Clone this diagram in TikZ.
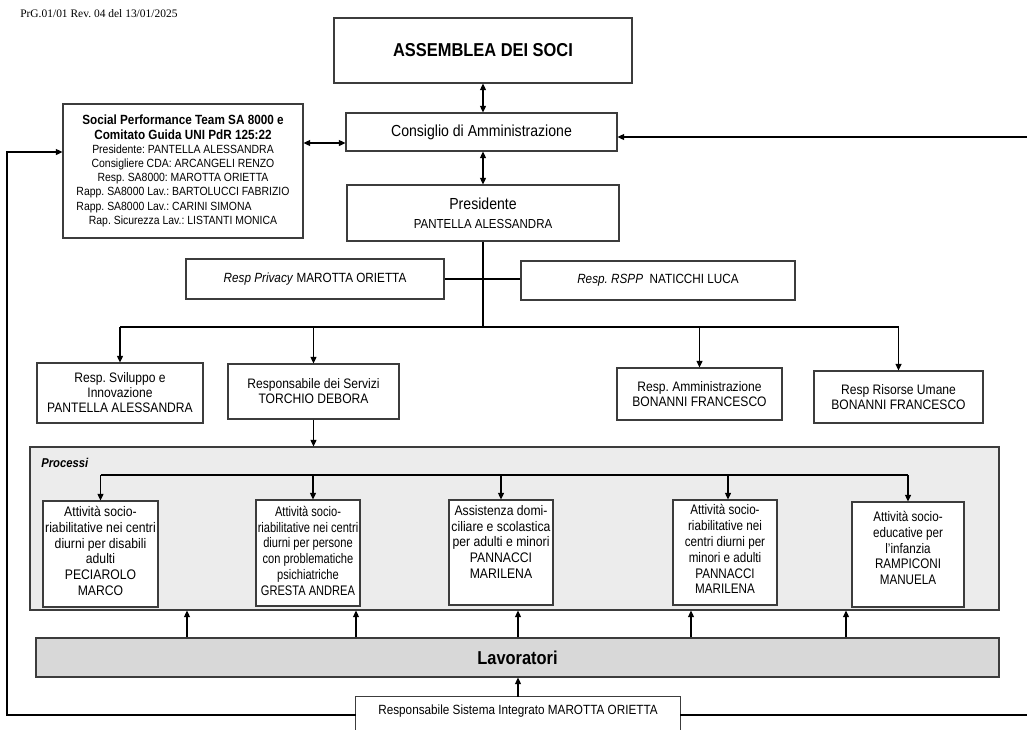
\documentclass[tikz,border=0pt]{standalone}
\usepackage{fontspec}
\setmainfont{Liberation Sans}[FakeStretch=0.88]
\newfontfamily\narrowA{Liberation Sans}[FakeStretch=0.80]
\newfontfamily\narrowB{Liberation Sans}[FakeStretch=0.84]
\newfontfamily\hdrfont{Liberation Serif}
\usetikzlibrary{arrows.meta}
\definecolor{procgray}{RGB}{236,236,236}
\definecolor{lavgray}{RGB}{216,216,216}
\definecolor{edge}{RGB}{60,60,60}
\newcommand{\fsz}[2]{\fontsize{#1}{#2}\selectfont}
\newcommand{\proctext}[4]{\parbox[c][#2][t]{#1}{\centering\vspace*{#3}#4\par}}
\frenchspacing
\begin{document}
\begin{tikzpicture}[x=0.75pt,y=-0.75pt,
  box/.style={draw=edge, line width=0.8pt, fill=white, inner sep=0pt, align=center},
  pbox/.style={draw=edge, line width=0.8pt, fill=white, inner sep=0pt, font=\fsz{10.4pt}{11.85pt}},
  midbox/.style={box, font=\fsz{10.3pt}{11.25pt}},
  conn/.style={line width=1pt, black},
  arr/.style={conn, -{Triangle[length=5pt,width=4.5pt]}},
  darr/.style={conn, {Triangle[length=5pt,width=4.5pt]}-{Triangle[length=5pt,width=4.5pt]}},
]
\clip (0,0) rectangle (1027,729);
\fill[white] (0,0) rectangle (1027,729);

\node[anchor=west, inner sep=0pt, font=\hdrfont\fsz{8.6pt}{10pt}] (hdr) at (20,14) {PrG.01/01 Rev. 04 del 13/01/2025};

% top
\node[box, minimum width=223.5pt, minimum height=48.75pt, font=\bfseries\fsz{14pt}{17pt}] (asm) at (483,50.5) {ASSEMBLEA DEI SOCI};
\node[box, minimum width=203.25pt, minimum height=28.5pt, font=\fsz{12pt}{14pt}] (cda) at (481.5,132) {Consiglio di Amministrazione};
\node[box, minimum width=204pt, minimum height=42pt, font=\fsz{9.8pt}{14pt}] (pres) at (483,213) {{\fsz{12pt}{14pt}Presidente}\\PANTELLA ALESSANDRA};

\node[box, minimum width=180pt, minimum height=100.5pt, font=\fsz{8.9pt}{10.65pt}] (spt) at (183,171)
 {{\bfseries\fsz{10pt}{10.65pt}Social Performance Team SA 8000 e}\\
  {\bfseries\fsz{10pt}{10.65pt}Comitato Guida UNI PdR 125:22}\\
  Presidente: PANTELLA ALESSANDRA\\
  Consigliere CDA: ARCANGELI RENZO\\
  Resp. SA8000: MAROTTA ORIETTA\\
  Rapp. SA8000 Lav.: BARTOLUCCI FABRIZIO\\
  Rapp. SA8000 Lav.: \rlap{CARINI SIMONA}\hphantom{BARTOLUCCI FABRIZIO}\\
  Rap. Sicurezza Lav.: LISTANTI MONICA};

\node[box, minimum width=193.5pt, minimum height=30pt, font=\fsz{10pt}{12pt}] (priv) at (315,279) {\textit{Resp Privacy} MAROTTA ORIETTA};
\node[box, minimum width=205.5pt, minimum height=29.25pt, font=\fsz{10pt}{12pt}] (rspp) at (658,280.5) {\textit{Resp. RSPP}\ \ NATICCHI LUCA};

% middle
\node[midbox, minimum width=124.5pt, minimum height=45pt] (svil) at (120,393) {Resp. Sviluppo e\\Innovazione\\PANTELLA ALESSANDRA};
\node[midbox, minimum width=128.25pt, minimum height=41.25pt] (serv) at (313.5,391.5) {Responsabile dei Servizi\\TORCHIO DEBORA};
\node[midbox, minimum width=123.75pt, minimum height=39pt] (amm) at (699.5,394) {Resp. Amministrazione\\BONANNI FRANCESCO};
\node[midbox, minimum width=126.75pt, minimum height=39pt] (ris) at (898.5,397) {Resp Risorse Umane\\BONANNI FRANCESCO};

% processi
\node[draw=edge, line width=0.8pt, fill=procgray, minimum width=726.75pt, minimum height=122.25pt, inner sep=0pt] (proc) at (514.5,528.5) {};
\node[anchor=west, inner sep=0pt, font=\bfseries\itshape\fsz{9.6pt}{11pt}] (proclab) at (41,463) {Processi};

\coordinate (busB) at (0,475);
\coordinate (busA) at (483,327);

\node[pbox] (b1) at (100.5,554) {\proctext{86.25pt}{79.5pt}{4pt}{Attività socio-\\riabilitative nei centri\\diurni per disabili\\adulti\\PECIAROLO\\MARCO}};
\node[pbox] (b2) at (308,553) {\narrowA\proctext{78pt}{79.5pt}{4.5pt}{Attività socio-\\riabilitative nei centri\\diurni per persone\\con problematiche\\psichiatriche\\GRESTA ANDREA}};
\node[pbox] (b3) at (501,552.5) {\proctext{78pt}{78.75pt}{4pt}{Assistenza domi-\\ciliare e scolastica\\per adulti e minori\\PANNACCI\\MARILENA}};
\node[pbox] (b4) at (725,552.5) {\narrowB\proctext{78pt}{78.75pt}{3.5pt}{Attività socio-\\riabilitative nei\\centri diurni per\\minori e adulti\\PANNACCI\\MARILENA}};
\node[pbox] (b5) at (908,554.5) {\narrowB\proctext{84pt}{78.75pt}{7pt}{Attività socio-\\educative per\\l’infanzia\\RAMPICONI\\MANUELA}};

\node[draw=edge, line width=0.8pt, fill=lavgray, minimum width=722.25pt, minimum height=29.25pt, inner sep=0pt, font=\bfseries\fsz{14pt}{16pt}] (lav) at (517.5,657.5) {Lavoratori};

\node[inner sep=0pt, minimum width=243pt, minimum height=21pt, font=\fsz{10pt}{12pt}] (rsi) at (518,711) {Responsabile Sistema Integrato MAROTTA ORIETTA};
\draw[draw=edge, line width=0.8pt] ([yshift=-30pt]rsi.south west) -- (rsi.north west) -- (rsi.north east) -- ([yshift=-30pt]rsi.south east);

% connectors
\draw[darr] (asm.south) -- (asm.south |- cda.north);
\draw[darr] (pres.north |- cda.south) -- (pres.north);
\draw[darr] (spt.east |- 0,143) -- (cda.west |- 0,143);

\draw[conn] (pres.south) -- (busA);
\draw[conn] (priv.east) -- (rspp.west |- priv.east);
\draw[conn] (svil.north |- busA) -- (ris.north |- busA);
\foreach \n in {svil,serv,amm,ris} \draw[arr] (\n.north |- busA) -- (\n.north);

\draw[arr] (serv.south) -- (serv.south |- proc.north);
\draw[conn] (b1.north |- busB) -- (b5.north |- busB);
\draw[arr] (b1.north |- busB) -- (b1.north);
\draw[arr] ([xshift=3.75pt]b2.north |- busB) -- ([xshift=3.75pt]b2.north);
\draw[arr] (b3.north |- busB) -- (b3.north);
\draw[arr] ([xshift=2.25pt]b4.north |- busB) -- ([xshift=2.25pt]b4.north);
\draw[arr] (b5.north |- busB) -- (b5.north);

\foreach \x in {187,356,518,691,846} \draw[arr] (\x,0 |- lav.north) -- (\x,0 |- proc.south);
\draw[arr] (rsi.north) -- (rsi.north |- lav.south);

\coordinate (bl) at (7,715);
\coordinate (tl) at (7,152);
\coordinate (rb) at (1030,715);
\coordinate (rt) at (1030,137);
\draw[arr] (rsi.west |- bl) -- (bl) -- (tl) -- (spt.west |- tl);
\draw[conn] (rsi.east |- bl) -- (rb);
\draw[arr] (rt) -- (cda.east |- rt);
\end{tikzpicture}
\end{document}
